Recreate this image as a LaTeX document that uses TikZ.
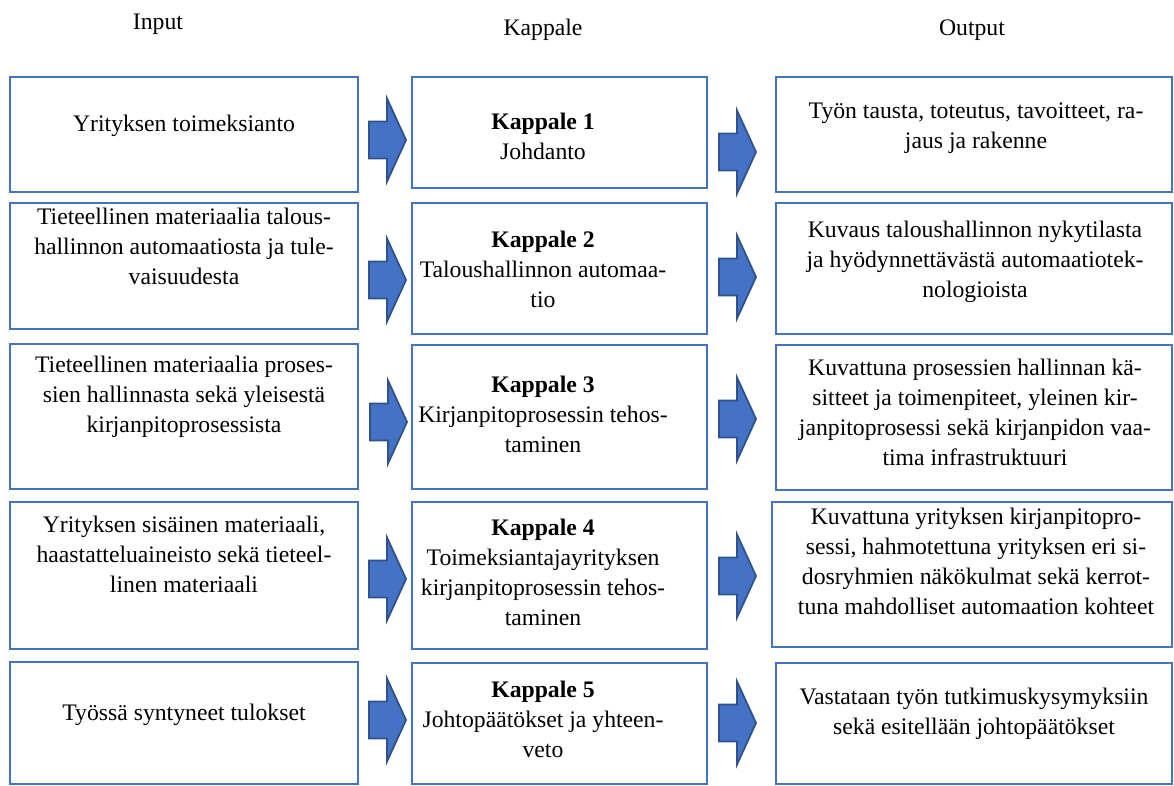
\documentclass[tikz,border=0pt]{standalone}
\usepackage{fontspec}
\setmainfont{Liberation Serif}
\definecolor{boxblue}{RGB}{68,114,196}
\definecolor{arrowedge}{RGB}{47,82,143}
\begin{document}
\begin{tikzpicture}[x=1pt,y=-1pt,
  box/.style={draw=boxblue,line width=2.6pt,inner sep=0pt,rectangle},
  txt/.style={font=\fontsize{23.7}{30}\selectfont,align=center,inner sep=0pt},
  head/.style={font=\fontsize{23.7}{30}\selectfont,inner sep=0pt},
  barrow/.pic={\draw[fill=boxblue,draw=arrowedge,line width=1.8pt,line join=miter]
     (0,-18.5) -- (18,-18.5) -- (18,-41.5) -- (37,0) -- (18,41.5) -- (18,18.5) -- (0,18.5) -- cycle;}
]
\useasboundingbox (0,0) rectangle (1174,786);

% headers
\node[head] (hin) at (158,24) {Input};
\node[head] (hk) at (543,30) {Kappale};
\node[head] (hout) at (972,30) {Output};

% left column boxes
\node[box,minimum width=348,minimum height=115] (L1) at (184,134.5) {};
\node[box,minimum width=348,minimum height=126] (L2) at (184,266) {};
\node[box,minimum width=348,minimum height=145] (L3) at (184,416.5) {};
\node[box,minimum width=348,minimum height=147] (L4) at (184,575.5) {};
\node[box,minimum width=348,minimum height=122] (L5) at (184,723) {};

% middle column boxes
\node[box,minimum width=295,minimum height=111] (M1) at (559.5,132.5) {};
\node[box,minimum width=295,minimum height=131] (M2) at (559.5,268.5) {};
\node[box,minimum width=295,minimum height=144] (M3) at (559.5,417) {};
\node[box,minimum width=295,minimum height=147] (M4) at (559.5,575.5) {};
\node[box,minimum width=295,minimum height=121] (M5) at (559.5,723.5) {};

% right column boxes
\node[box,minimum width=396,minimum height=115] (R1) at (974,134.5) {};
\node[box,minimum width=396,minimum height=131] (R2) at (974,268.5) {};
\node[box,minimum width=396,minimum height=145] (R3) at (974,417.5) {};
\node[box,minimum width=400,minimum height=145] (R4) at (972,574.5) {};
\node[box,minimum width=396,minimum height=121] (R5) at (974,723.5) {};

% left texts
\node[txt] (tL1) at (184,126) {\strut Yrityksen toimeksianto\strut};
\node[txt] (tL2) at (184,248) {\strut Tieteellinen materiaalia talous-\\hallinnon automaatiosta ja tule-\\vaisuudesta\strut};
\node[txt] (tL3) at (184,396) {\strut Tieteellinen materiaalia proses-\\sien hallinnasta sekä yleisestä\\kirjanpitoprosessista\strut};
\node[txt] (tL4) at (184,556) {\strut Yrityksen sisäinen materiaali,\\haastatteluaineisto sekä tieteel-\\linen materiaali\strut};
\node[txt] (tL5) at (184,714) {\strut Työssä syntyneet tulokset\strut};

% middle texts
\node[txt] (tM1) at (543,139) {\strut\textbf{Kappale 1}\\Johdanto\strut};
\node[txt] (tM2) at (543,271) {\strut\textbf{Kappale 2}\\Taloushallinnon automaa-\\tio\strut};
\node[txt] (tM3) at (543,416) {\strut\textbf{Kappale 3}\\Kirjanpitoprosessin tehos-\\taminen\strut};
\node[txt] (tM4) at (543,574) {\strut\textbf{Kappale 4}\\Toimeksiantajayrityksen\\kirjanpitoprosessin tehos-\\taminen\strut};
\node[txt] (tM5) at (543,721) {\strut\textbf{Kappale 5}\\Johtopäätökset ja yhteen-\\veto\strut};

% right texts
\node[txt] (tR1) at (976,128) {\strut Työn tausta, toteutus, tavoitteet, ra-\\jaus ja rakenne\strut};
\node[txt] (tR2) at (975,261) {\strut Kuvaus taloushallinnon nykytilasta\\ja hyödynnettävästä automaatiotek-\\nologioista\strut};
\node[txt] (tR3) at (975,414) {\strut Kuvattuna prosessien hallinnan kä-\\sitteet ja toimenpiteet, yleinen kir-\\janpitoprosessi sekä kirjanpidon vaa-\\tima infrastruktuuri\strut};
\node[txt] (tR4) at (976,563) {\strut Kuvattuna yrityksen kirjanpitopro-\\sessi, hahmotettuna yrityksen eri si-\\dosryhmien näkökulmat sekä kerrot-\\tuna mahdolliset automaation kohteet\strut};
\node[txt] (tR5) at (974,713) {\strut Vastataan työn tutkimuskysymyksiin\\sekä esitellään johtopäätökset\strut};

% block arrows left -> middle
\pic at (369,140) {barrow};
\pic at (369,280) {barrow};
\pic at (370,422) {barrow};
\pic at (369,579) {barrow};
\pic at (369,720) {barrow};

% block arrows middle -> right
\pic at (719,152) {barrow};
\pic at (719,277) {barrow};
\pic at (719,419) {barrow};
\pic at (719,576) {barrow};
\pic at (719,723) {barrow};
\end{tikzpicture}
\end{document}
